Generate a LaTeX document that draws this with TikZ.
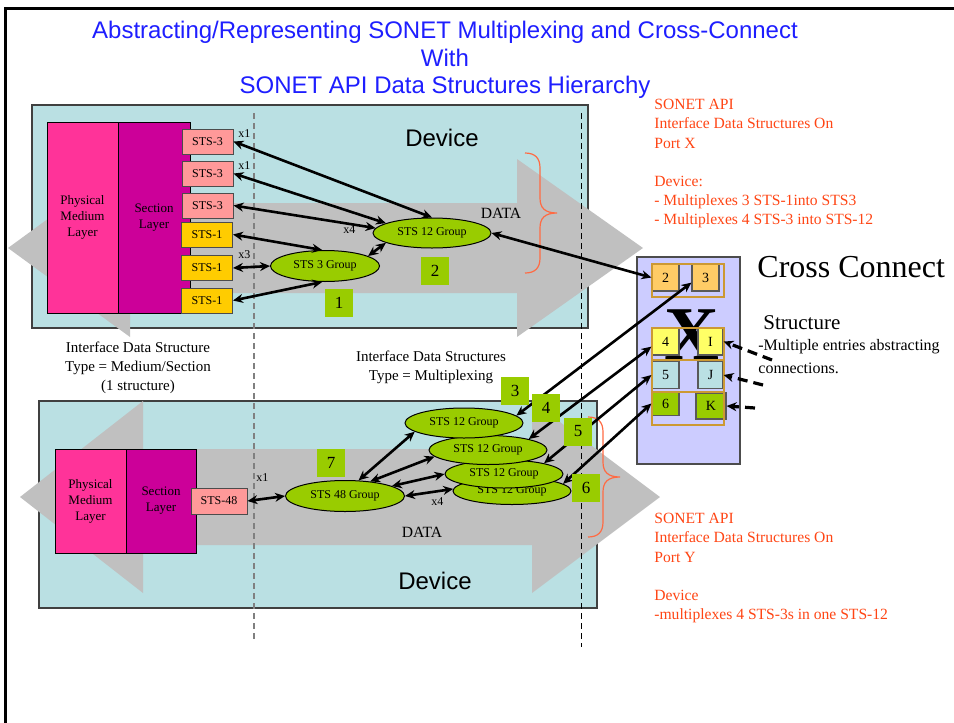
\documentclass[tikz,border=0pt]{standalone}
\usepackage{fontspec}
\setmainfont{Liberation Serif}
\newfontfamily\arialfont{Liberation Sans}
\usepackage{tikz}
\usetikzlibrary{arrows.meta}
\usetikzlibrary{shapes.geometric}
\definecolor{devfill}{RGB}{186,224,227}
\definecolor{datagray}{RGB}{192,192,192}
\definecolor{physpink}{RGB}{255,51,153}
\definecolor{sectmag}{RGB}{204,0,153}
\definecolor{stsred}{RGB}{255,153,153}
\definecolor{stsgold}{RGB}{255,204,0}
\definecolor{grpgreen}{RGB}{153,204,0}
\definecolor{ccfill}{RGB}{204,204,255}
\definecolor{ccorange}{RGB}{255,204,102}
\definecolor{ccyellow}{RGB}{255,255,102}
\definecolor{rowgold}{RGB}{204,153,51}
\definecolor{apired}{RGB}{255,69,20}
\definecolor{titleblue}{RGB}{30,30,255}
\tikzset{devbox/.style={fill=devfill, draw=black!75, line width=0.8pt},
  layerbox/.style={draw=black, line width=0.5pt, inner sep=0pt, align=center, font=\fontsize{6.5}{8}\selectfont, minimum width=35.5pt},
  stsbox/.style={draw=black!70, line width=0.5pt, inner sep=0pt, font=\fontsize{6}{7}\selectfont, minimum width=25.5pt, minimum height=12.5pt},
  groupell/.style={ellipse, draw=black, line width=0.5pt, fill=grpgreen, inner sep=0pt, font=\fontsize{6}{7}\selectfont, minimum width=59pt, minimum height=15pt},
  numbox/.style={fill=grpgreen, inner sep=0pt, minimum size=14pt, font=\fontsize{8.5}{9}\selectfont},
  ccslot/.style={draw=black!65, line width=0.6pt, inner sep=0pt, minimum size=13.5pt, font=\fontsize{7}{8}\selectfont},
  rowframe/.style={draw=rowgold, line width=0.7pt},
  smalllabel/.style={inner sep=0pt, font=\fontsize{6}{7}\selectfont},
  apinote/.style={text=apired, align=left, inner sep=0pt, font=\fontsize{7.8}{9.6}\selectfont},
  bracemark/.style={draw=apired!80, line width=0.6pt},
  link/.style={{Stealth[length=5pt,width=4.5pt]}-{Stealth[length=5pt,width=4.5pt]}, line width=1.3pt},
  dashlink/.style={-{Stealth[length=5pt,width=4.5pt]}, line width=1.6pt, dash pattern=on 5pt off 3pt}}

\begin{document}
\begin{tikzpicture}[x=0.5pt,y=-0.5pt]
\useasboundingbox (0,0) rectangle (954,723);
% page frame and title
\draw[line width=1.5pt] (5,723) -- (5,8) -- (954,8);
\node[text=titleblue, align=center, inner sep=0pt, anchor=north, font=\arialfont\fontsize{12}{13.75}\selectfont] (title) at (445,21) {Abstracting/Representing SONET Multiplexing and Cross-Connect\\With\\SONET API Data Structures Hierarchy};

% devices with data arrows
\draw[devbox] (32,105) rectangle (588,328);
\draw[devbox] (39,401) rectangle (597,608);
\fill[datagray] (8,248) -- (130,159) -- (130,203) -- (517,203) -- (517,159) -- (643,248) -- (517,337) -- (517,293) -- (130,293) -- (130,337) -- cycle;
\fill[datagray] (20,497) -- (143,401) -- (143,449) -- (532,449) -- (532,401) -- (660,497) -- (532,593) -- (532,545) -- (143,545) -- (143,593) -- cycle;
\draw[gray, densely dashed, line width=0.6pt] (254,113) -- (254,640);
\draw[black, densely dashed, line width=0.5pt] (581,113) -- (581,647);

% port X device
\node[layerbox, fill=physpink, minimum height=95.5pt] (phyX) at (82.5,217.5) {Physical\\Medium\\Layer};
\node[layerbox, fill=sectmag, minimum width=36pt, minimum height=95.5pt] (secX) at (154,217.5) {Section\\Layer};
\node[stsbox, fill=stsred] (s3a) at (207.5,141.5) {STS-3};
\node[stsbox, fill=stsred] (s3b) at (207.5,173.5) {STS-3};
\node[stsbox, fill=stsred] (s3c) at (207.5,205.5) {STS-3};
\node[stsbox, fill=stsgold] (s1a) at (207,234.5) {STS-1};
\node[stsbox, fill=stsgold] (s1b) at (207,268) {STS-1};
\node[stsbox, fill=stsgold] (s1c) at (207,300.5) {STS-1};
\node[smalllabel, anchor=base west] (xa) at (238,137) {x1};
\node[smalllabel, anchor=base west] (xb) at (238,169) {x1};
\node[smalllabel, anchor=base west] (xc) at (238,258) {x3};
\node[smalllabel, anchor=base west] (xd) at (343,233) {x4};
\node[groupell, minimum width=54.5pt, minimum height=15.5pt] (g3) at (325,266) {STS 3 Group};
\node[groupell] (g12) at (432,233) {STS 12 Group};
\node[anchor=base, inner sep=0pt, font=\fontsize{7.8}{9}\selectfont] (dataX) at (501,218) {DATA};
\node[anchor=base, inner sep=0pt, font=\arialfont\fontsize{12}{14}\selectfont] (devX) at (442,146) {Device};
\draw[bracemark] (525,153) .. controls (535,153) and (540,158) .. (540,168) -- (540,198) .. controls (540,208) and (545,213) .. (557,213) .. controls (545,213) and (540,218) .. (540,228) -- (540,258) .. controls (540,268) and (535,273) .. (525,273);

% port Y device
\node[layerbox, fill=physpink, minimum height=52pt] (phyY) at (90.5,501) {Physical\\Medium\\Layer};
\node[layerbox, fill=sectmag, minimum width=35pt, minimum height=52pt] (secY) at (161,501) {Section\\Layer};
\node[stsbox, fill=stsred, minimum width=28pt, minimum height=13pt] (sts48) at (219,501) {STS-48};
\node[smalllabel, anchor=base west] (xe) at (256,481) {x1};
\node[smalllabel, anchor=base west] (xf) at (431,505) {x4};
\node[groupell, minimum width=59.5pt, minimum height=15.5pt] (g48) at (345,496) {STS 48 Group};
\node[groupell, minimum height=13.5pt] (gD) at (512,491) {STS 12 Group};
\node[groupell, minimum height=14pt] (gC) at (504,474) {STS 12 Group};
\node[groupell, minimum height=14.5pt] (gB) at (488,450) {STS 12 Group};
\node[groupell] (gA) at (464,423) {STS 12 Group};
\node[anchor=base, inner sep=0pt, font=\fontsize{7.8}{9}\selectfont] (dataY) at (422,537) {DATA};
\node[anchor=base, inner sep=0pt, font=\arialfont\fontsize{12}{14}\selectfont] (devY) at (435,589) {Device};
\draw[bracemark] (588,417) .. controls (598,417) and (603,422) .. (603,432) -- (603,462) .. controls (603,472) and (608,477) .. (620,477) .. controls (608,477) and (603,482) .. (603,492) -- (603,522) .. controls (603,532) and (598,537) .. (588,537);

% cross connect
\node[draw=black!70, line width=0.7pt, fill=ccfill, minimum width=51.5pt, minimum height=103.5pt, inner sep=0pt] (cc) at (688.5,360.5) {};
\node[inner sep=0pt, font=\fontsize{38}{38}\selectfont\bfseries] (bigx) at (692,335) {X};
\node[ccslot, fill=ccorange] (cc2) at (665.5,277.5) {2};
\node[ccslot, fill=ccorange] (cc3) at (705.5,277.5) {3};
\node[ccslot, fill=ccyellow] (cc4) at (665.5,341.5) {4};
\node[ccslot, fill=ccyellow, minimum width=12.5pt] (ccI) at (710.5,341.5) {I};
\node[ccslot, fill=devfill] (cc5) at (665.5,375) {5};
\node[ccslot, fill=devfill, minimum width=12.5pt] (ccJ) at (710.5,375) {J};
\node[ccslot, fill=grpgreen, minimum height=12pt] (cc6) at (665.5,403.5) {6};
\node[ccslot, fill=grpgreen, minimum width=15pt, minimum height=13pt] (ccK) at (711,406) {K};
\draw[rowframe] (652,264) rectangle (724,297);
\draw[rowframe] (652,328) rectangle (724,360);
\draw[rowframe] (652,360) rectangle (724,392);
\draw[rowframe] (652,392) rectangle (724,425);
\coordinate (inI) at (772,360);
\coordinate (inJ) at (763,385);
\coordinate (inK) at (755,408);
\draw[dashlink] (inI) -- (ccI.east);
\draw[dashlink] (inJ) -- (ccJ.east);
\draw[dashlink] (inK) -- (ccK.east);

% multiplexing links
\draw[link] (s3a.east) -- (g12.north);
\draw[link] (s3b.east) -- (g12.168);
\draw[link] (s3c.east) -- (g12.175);
\draw[link] (s1a.east) -- (g3.100);
\draw[link] (s1b.east) -- (g3.west);
\draw[link] (s1c.east) -- (g3.260);
\draw[link] (g3.13) -- (g12.192);
\draw[link] (g12.east) -- (cc2.west);
\draw[link] (sts48.east) -- (g48.west);
\draw[link] (g48.49) -- (gA.190);
\draw[link] (g48.30) -- (gB.187);
\draw[link] (g48.12) -- (gC.west);
\draw[link] (g48.east) -- (gD.178);
\draw[link] (gA.8) -- (cc3.200);
\draw[link] (gB.15) -- (cc4.200);
\draw[link] (gC.15) -- (cc5.west);
\draw[link] (gD.8) -- (cc6.west);

% structure numbers
\node[numbox] (n1) at (339,303) {1};
\node[numbox] (n2) at (435,271) {2};
\node[numbox] (n3) at (515,391) {3};
\node[numbox] (n4) at (546,407.5) {4};
\node[numbox] (n5) at (578,431.5) {5};
\node[numbox] (n6) at (586,487.5) {6};
\node[numbox] (n7) at (331,463) {7};

% notes
\node[align=center, inner sep=0pt, anchor=north, font=\fontsize{7.5}{9.5}\selectfont] (noteA) at (138,342) {Interface Data Structure\\Type = Medium/Section\\(1 structure)};
\node[align=center, inner sep=0pt, anchor=north, font=\fontsize{7.5}{9.5}\selectfont] (noteB) at (431,351) {Interface Data Structures\\Type = Multiplexing};
\node[apinote, anchor=north west] (apiX) at (654,99) {SONET API\\Interface Data Structures On\\Port X\\[9.6pt]Device:\\- Multiplexes 3 STS-1into STS3\\- Multiplexes 4 STS-3 into STS-12};
\node[apinote, anchor=north west] (apiY) at (654,513) {SONET API\\Interface Data Structures On\\Port Y\\[9.6pt]Device\\-multiplexes 4 STS-3s in one STS-12};
\node[anchor=base west, inner sep=0pt, font=\fontsize{16}{18}\selectfont] (cctitle) at (757,277) {Cross Connect};
\node[anchor=base west, inner sep=0pt, font=\fontsize{10.5}{12}\selectfont] (ccstruct) at (763,329) {Structure};
\node[anchor=north west, align=left, inner sep=0pt, font=\fontsize{8}{11.5}\selectfont] (ccnote) at (758,339) {-Multiple entries abstracting\\connections.};
\end{tikzpicture}
\end{document}
